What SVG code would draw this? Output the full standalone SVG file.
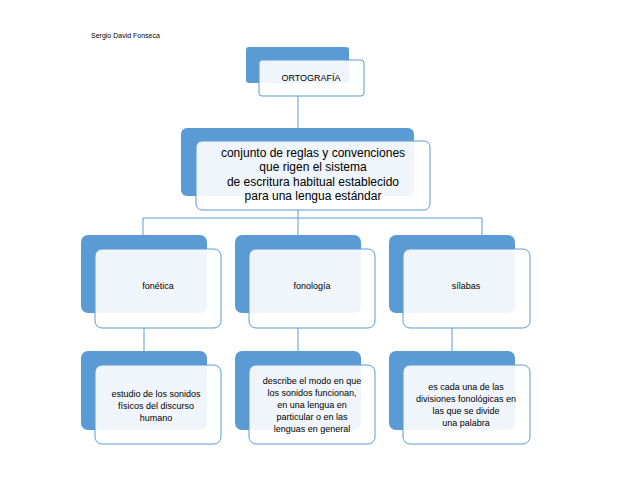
<svg xmlns="http://www.w3.org/2000/svg" width="638" height="493" viewBox="0 0 638 493">
<style>
.b{fill:#5B9BD5}
.w{fill:#fff;fill-opacity:0.9;stroke:#5B9BD5;stroke-width:1}
.t{font-family:"Liberation Sans",Arial,sans-serif;fill:#000;text-anchor:middle}
.c{stroke:#5B9BD5;stroke-width:1;fill:none}
</style>
<rect width="638" height="493" fill="#fff"/>
<text x="91" y="38" font-family="Liberation Sans,Arial,sans-serif" font-size="7">Sergio David Fonseca</text>
<g id="connectors">
<path class="c" d="M298 96V128M298 210V218M143 218H482M143 218V235M298 218V235M482 218V235M144 328V351M298 328V351M452 328V351"/>
</g>
<g id="n-ortografia">
<rect class="b" x="246" y="47" width="103" height="36" rx="3"/>
<rect class="w" x="259" y="60" width="105" height="36" rx="3"/>
<text class="t" x="311" y="81" font-size="9">ORTOGRAFÍA</text>
</g>
<g id="n-conjunto">
<rect class="b" x="181" y="128" width="233" height="68" rx="6"/>
<rect class="w" x="196" y="141" width="234" height="69" rx="6"/>
<text class="t" font-size="12"><tspan x="313" y="157">conjunto de reglas y convenciones</tspan><tspan x="313" y="171">que rigen el sistema</tspan><tspan x="313" y="186">de escritura habitual establecido</tspan><tspan x="313" y="200">para una lengua estándar</tspan></text>
</g>
<g id="n-fonetica">
<rect class="b" x="81" y="235" width="126" height="78" rx="7"/>
<rect class="w" x="95" y="249" width="126" height="79" rx="7"/>
<text class="t" x="158" y="289" font-size="9">fonética</text>
</g>
<g id="n-fonologia">
<rect class="b" x="235" y="235" width="126" height="78" rx="7"/>
<rect class="w" x="249" y="249" width="126" height="79" rx="7"/>
<text class="t" x="312" y="289" font-size="9">fonología</text>
</g>
<g id="n-silabas">
<rect class="b" x="389" y="235" width="126" height="78" rx="7"/>
<rect class="w" x="403" y="249" width="127" height="79" rx="7"/>
<text class="t" x="466" y="289" font-size="9">sílabas</text>
</g>
<g id="n-estudio">
<rect class="b" x="81" y="351" width="126" height="79" rx="7"/>
<rect class="w" x="95" y="365" width="126" height="79" rx="7"/>
<text class="t" font-size="9"><tspan x="156" y="397">estudio de los sonidos</tspan><tspan x="156" y="409">físicos del discurso</tspan><tspan x="156" y="421">humano</tspan></text>
</g>
<g id="n-describe">
<rect class="b" x="235" y="351" width="126" height="79" rx="7"/>
<rect class="w" x="249" y="365" width="126" height="79" rx="7"/>
<text class="t" font-size="9"><tspan x="312" y="384">describe el modo en que</tspan><tspan x="312" y="396">los sonidos funcionan,</tspan><tspan x="312" y="408">en una lengua en</tspan><tspan x="312" y="420">particular o en las</tspan><tspan x="312" y="432">lenguas en general</tspan></text>
</g>
<g id="n-es-cada">
<rect class="b" x="389" y="351" width="126" height="79" rx="7"/>
<rect class="w" x="403" y="365" width="127" height="79" rx="7"/>
<text class="t" font-size="9"><tspan x="466" y="390">es cada una de las</tspan><tspan x="466" y="402">divisiones fonológicas en</tspan><tspan x="466" y="414">las que se divide</tspan><tspan x="466" y="426">una palabra</tspan></text>
</g>
</svg>
